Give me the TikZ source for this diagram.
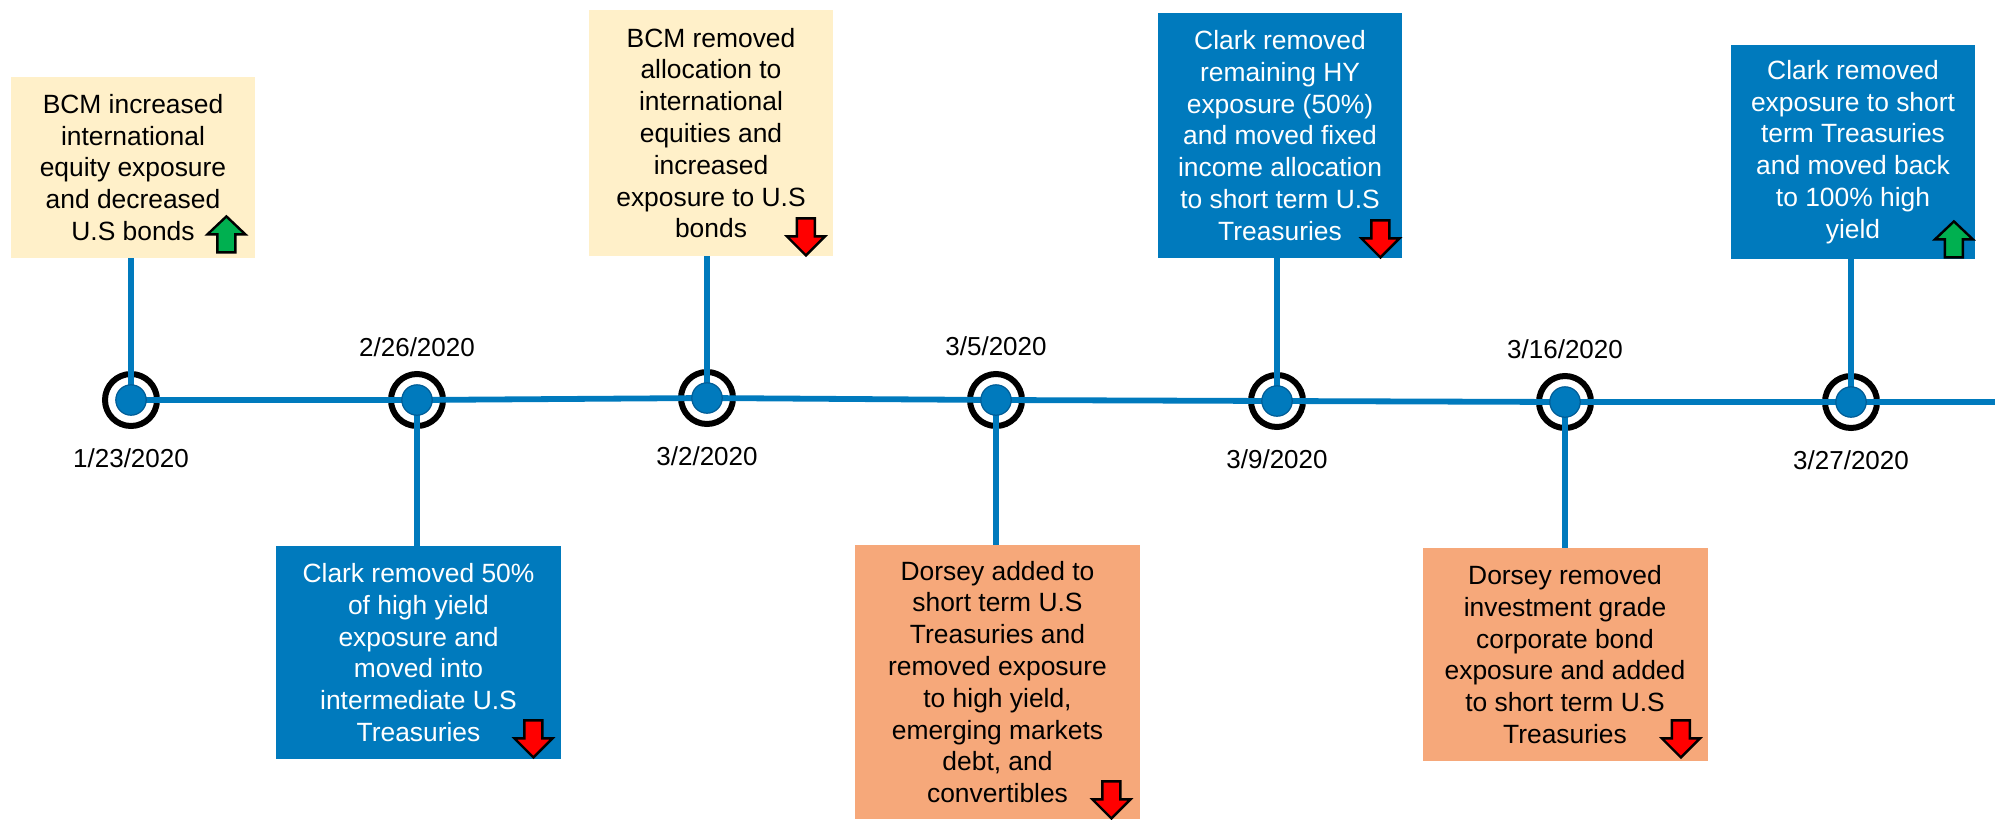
\documentclass[tikz,border=0pt]{standalone}
\usepackage{fontspec}
\setmainfont{Liberation Sans}
\usetikzlibrary{positioning}

\definecolor{LineBlue}{RGB}{0,122,189}
\definecolor{DotBlue}{RGB}{0,92,150}
\definecolor{Cream}{RGB}{255,240,201}
\definecolor{Salmon}{RGB}{246,168,122}
\definecolor{UpGreen}{RGB}{0,176,80}
\definecolor{DownRed}{RGB}{255,0,0}

\tikzset{
  event/.style={rectangle, inner sep=0pt, align=center, minimum width=122pt,
    font=\fontsize{13.2}{15.9}\selectfont},
  bcm/.style={event, fill=Cream},
  clark/.style={event, fill=LineBlue, text=white},
  dorsey/.style={event, fill=Salmon},
  wide/.style={minimum width=142.5pt},
  ring/.style={circle, draw=black, line width=3pt, minimum size=26pt, inner sep=0pt, outer sep=0pt},
  date/.style={font=\fontsize{13}{15}\selectfont, inner sep=0pt, anchor=base},
  link/.style={LineBlue, line width=2.9pt},
  uparr/.pic={\filldraw[fill=UpGreen, draw=black, line width=1.2pt, line join=miter]
    (-9,0) -- (9,0) -- (9,-18) -- (19,-18) -- (0,-36) -- (-19,-18) -- (-9,-18) -- cycle;},
  downarr/.pic={\filldraw[fill=DownRed, draw=black, line width=1.2pt, line join=miter]
    (0,0) -- (19,-19) -- (9,-19) -- (9,-37) -- (-9,-37) -- (-9,-19) -- (-19,-19) -- cycle;}
}

\begin{document}
\begin{tikzpicture}[x=0.5pt, y=-0.5pt]
\useasboundingbox (0,0) rectangle (1995,819);

% milestones
\node[ring] (d1) at (131,400) {};
\node[ring] (d2) at (417,400) {};
\node[ring] (d3) at (707,398) {};
\node[ring] (d4) at (996,400) {};
\node[ring] (d5) at (1277,401) {};
\node[ring] (d6) at (1565,402) {};
\node[ring] (d7) at (1851,402) {};
\coordinate (tend) at (1995,402);

% boxes
\node[bcm, minimum height=90.5pt] (b1) at (133,167.5)
  {BCM increased\\international\\equity exposure\\and decreased\\U.S bonds};
\node[bcm, minimum height=123pt] (b2) at (711,133)
  {BCM removed\\allocation to\\international\\equities and\\increased\\exposure to U.S\\bonds};
\node[clark, wide, minimum height=106.5pt] (b3) at (418.5,652.5)
  {Clark removed 50\%\\of high yield\\exposure and\\moved into\\intermediate U.S\\Treasuries};
\node[dorsey, wide, minimum height=137pt] (b4) at (997.5,682)
  {Dorsey added to\\short term U.S\\Treasuries and\\removed exposure\\to high yield,\\emerging markets\\debt, and\\convertibles};
\node[clark, minimum height=122.5pt] (b5) at (1280,135.5)
  {Clark removed\\remaining HY\\exposure (50\%)\\and moved fixed\\income allocation\\to short term U.S\\Treasuries};
\node[dorsey, wide, minimum height=106.5pt] (b6) at (1565,654.5)
  {Dorsey removed\\investment grade\\corporate bond\\exposure and added\\to short term U.S\\Treasuries};
\node[clark, minimum height=107pt] (b7) at (1853,152)
  {Clark removed\\exposure to short\\term Treasuries\\and moved back\\to 100\% high\\yield};

% timeline and links
\draw[link] (d1.center) -- (d2.center) -- (d3.center) -- (d4.center) -- (d5.center)
  -- (d6.center) -- (d7.center) -- (tend);
\draw[link] (d1.center) -- (d1 |- b1.south);
\draw[link] (d2.center) -- (d2 |- b3.north);
\draw[link] (d3.center) -- (d3 |- b2.south);
\draw[link] (d4.center) -- (d4 |- b4.north);
\draw[link] (d5.center) -- (d5 |- b5.south);
\draw[link] (d6.center) -- (d6 |- b6.north);
\draw[link] (d7.center) -- (d7 |- b7.south);

\foreach \d in {d1,d2,d3,d4,d5,d6,d7}
  \filldraw[fill=LineBlue, draw=DotBlue, line width=0.6pt] (\d.center) circle (7.6pt);

% dates
\node[date] (l1) at ([shift={(0,67)}]d1.center) {1/23/2020};
\node[date] (l2) at ([shift={(0,-44)}]d2.center) {2/26/2020};
\node[date] (l3) at ([shift={(0,67)}]d3.center) {3/2/2020};
\node[date] (l4) at ([shift={(0,-45)}]d4.center) {3/5/2020};
\node[date] (l5) at ([shift={(0,67)}]d5.center) {3/9/2020};
\node[date] (l6) at ([shift={(0,-44)}]d6.center) {3/16/2020};
\node[date] (l7) at ([shift={(0,67)}]d7.center) {3/27/2020};

% up / down markers
\pic at ([shift={(-29,-6)}]b1.south east) {uparr};
\pic at ([shift={(-27.5,-1)}]b2.south east) {downarr};
\pic at ([shift={(-28,-2)}]b3.south east) {downarr};
\pic at ([shift={(-29,-1)}]b4.south east) {downarr};
\pic at ([shift={(-22,-1)}]b5.south east) {downarr};
\pic at ([shift={(-27,-4)}]b6.south east) {downarr};
\pic at ([shift={(-21.5,-2)}]b7.south east) {uparr};
\end{tikzpicture}
\end{document}
